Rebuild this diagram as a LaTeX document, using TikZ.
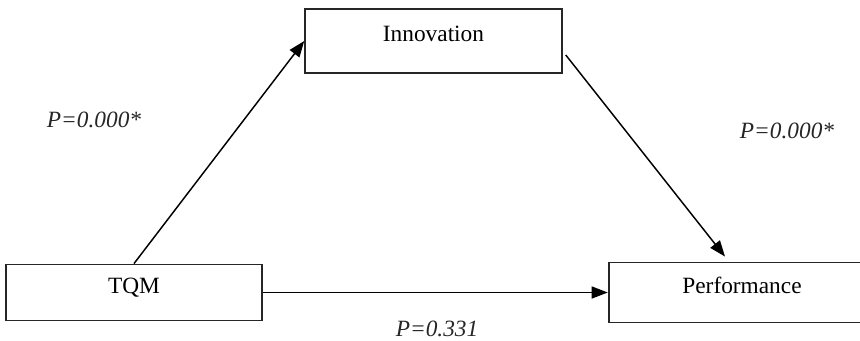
\documentclass[tikz,border=0pt]{standalone}
\usepackage{fontspec}
\setmainfont{Liberation Serif}
\usepackage{tikz}
\usetikzlibrary{arrows.meta,positioning}
\tikzset{
  var/.style={rectangle, draw=black!85, line width=1.4pt, fill=white,
              minimum width=192.5pt, font=\fontsize{17.5}{21}\selectfont,
              text height=11pt, text depth=10pt, inner sep=0pt},
  path/.style={-{Triangle[length=12pt, width=9pt]}, line width=1.1pt, black},
  pval/.style={font=\fontsize{17.5}{21}\selectfont\itshape, anchor=base,
               text=black!85, inner sep=0pt},
}

\begin{document}
\begin{tikzpicture}[x=0.75pt, y=-0.75pt]
\useasboundingbox (0,0) rectangle (860,340);

% ── Constructs ─────────────────────────────────────────────
\node[var, minimum height=48pt] (inno) at (433.5,41) {Innovation};
\node[var, minimum height=42pt] (tqm) at (134,292.5) {TQM};
\node[var, minimum height=45pt, minimum width=200pt] (perf) at (742,292.5) {Performance};

% ── Paths ──────────────────────────────────────────────────
\draw[path] (tqm.north) -- (inno.west);
\draw[path] ([shift={(3,14)}]inno.east) -- ([shift={(-17,-5)}]perf.north);
\draw[path] (tqm.east) -- (perf.west);

% ── Significance ───────────────────────────────────────────
\node[pval] (pa) at (94,127) {P=0.000*};
\node[pval] (pb) at (787,138) {P=0.000*};
\node[pval] (pc) at (437,336) {P=0.331};

\end{tikzpicture}
\end{document}
